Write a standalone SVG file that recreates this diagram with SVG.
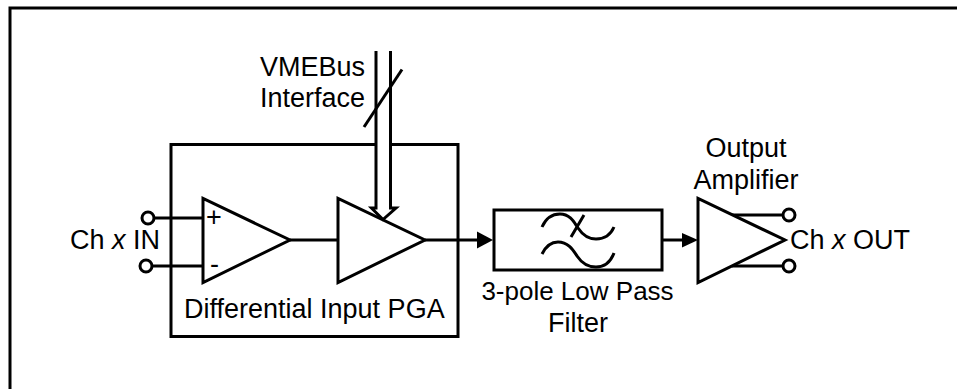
<svg xmlns="http://www.w3.org/2000/svg" width="957" height="389" viewBox="0 0 957 389">
<style>
.s{fill:none;stroke:#000;stroke-width:3;stroke-linejoin:miter}
.w{fill:#fff;stroke:#000;stroke-width:3}
.t{font-family:"Liberation Sans",Arial,sans-serif;font-size:27px;fill:#000}
.h{fill:#000}
</style>
<rect width="957" height="389" fill="#fff"/>
<rect class="s" x="10" y="8" width="1000" height="500"/>
<g id="pga"><rect class="s" x="171" y="144.500" width="287" height="192"/>
<text class="t" x="184" y="318">Differential Input PGA</text></g>
<g id="connectors">
<path class="s" d="M147 218H203M145 266H203M290 240H338M425 240H482"/>
<path class="h" d="M477 231.500L493 240L477 248.500Z"/>
<path class="s" d="M663 240H688"/>
<path class="h" d="M682 233L698 240L682 247.500Z"/>
<path class="s" d="M732 215H790M732 266H790"/>
<rect x="377" y="142" width="13" height="5" fill="#fff"/>
<path class="s" d="M376 51V208H371.500L383 219.500L396 208H390.500V51"/>
<path class="s" d="M364 127L402 69.500"/>
</g>
<g id="amp1"><path class="w" d="M203 198.500V282.500L290 240Z"/>
<text class="t" x="206" y="226">+</text><text class="t" x="210" y="272.500" font-size="24">-</text></g>
<g id="amp2"><path class="s" d="M338 198.500V282.500L425 240Z"/></g>
<g id="filter"><rect class="s" x="494" y="210" width="168" height="60"/>
<path class="s" d="M542 227C546 218 552 214 560 214C570 214 574 222 578 228C582 234 588 239 596 239C606 239 611 234 614 227M542 254C546 246 551 242 558 242C568 242 573 250 577 256C581 262 587 267 596 267C606 267 611 261 614 253M571 237L584 215"/></g>
<g id="amp3"><path class="w" d="M698 198.500V282.500L785 240Z"/></g>
<g id="term-in"><circle class="w" cx="148" cy="218" r="6"/><circle class="w" cx="146" cy="266" r="6"/></g>
<g id="term-out"><circle class="w" cx="789" cy="215" r="6"/><circle class="w" cx="789" cy="266" r="6"/></g>
<g id="labels">
<text class="t" x="260" y="76">VMEBus</text>
<text class="t" x="260" y="107">Interface</text>
<text class="t" x="70" y="249">Ch <tspan font-style="italic">x</tspan> IN</text>
<text class="t" x="790" y="248.500">Ch <tspan font-style="italic">x</tspan> OUT</text>
<text class="t" x="577.500" y="300" style="font-size:26px" text-anchor="middle">3-pole Low Pass</text>
<text class="t" x="578" y="332" text-anchor="middle">Filter</text>
<text class="t" x="746" y="157" text-anchor="middle">Output</text>
<text class="t" x="746" y="189" text-anchor="middle">Amplifier</text>
</g>
</svg>
